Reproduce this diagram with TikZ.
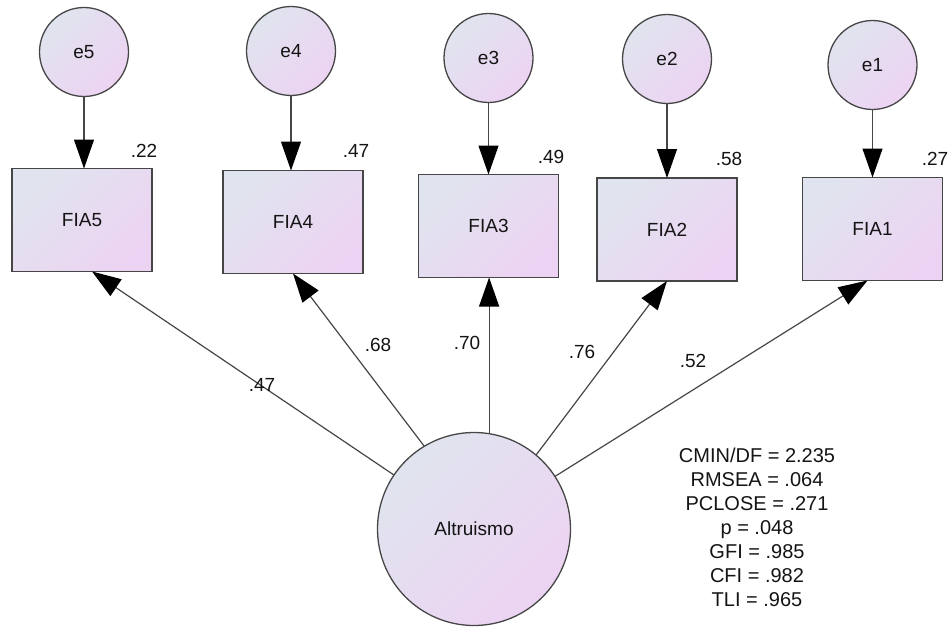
\documentclass[tikz,border=0pt]{standalone}
\usepackage{fontspec}
\setmainfont{Liberation Sans}
\usetikzlibrary{arrows.meta}
\definecolor{gA}{RGB}{224,228,238}
\definecolor{gB}{RGB}{237,211,243}
\definecolor{edge}{RGB}{70,70,70}
\definecolor{ink}{RGB}{20,20,20}
\tikzset{
  grad/.style={top color=gA, bottom color=gB, shading angle=45},
  obs/.style={draw=edge, line width=1.3pt, grad, rectangle, minimum width=140pt, minimum height=103pt, inner sep=0pt, outer sep=0pt, text=ink},
  err/.style={draw=edge, line width=1.3pt, grad, circle, minimum size=89pt, inner sep=0pt, outer sep=0pt, text=ink},
  lat/.style={draw=edge, line width=1.3pt, grad, circle, minimum size=193pt, inner sep=0pt, outer sep=0pt, text=ink},
  arr/.style={draw=edge, line width=1.2pt, -{Triangle[length=29pt,width=20pt,fill=black,color=black]}},
  lbl/.style={text=ink, inner sep=0pt}
}
\begin{document}
\begin{tikzpicture}[x=1pt,y=-1pt,font=\fontsize{19}{23}\selectfont]
\useasboundingbox (0,0) rectangle (949,626);
% observed variables
\node[obs] (fia5) at (82,220) {FIA5};
\node[obs] (fia4) at (293,222) {FIA4};
\node[obs] (fia3) at (488.5,226) {FIA3};
\node[obs] (fia2) at (667,229.5) {FIA2};
\node[obs] (fia1) at (872.5,229) {FIA1};
% error terms
\node[err] (e5) at (84,52) {e5};
\node[err] (e4) at (291,51) {e4};
\node[err] (e3) at (488.5,58) {e3};
\node[err] (e2) at (667,59) {e2};
\node[err] (e1) at (872.5,65) {e1};
% latent
\node[lat] (alt) at (474,529) {Altruismo};
% error arrows
\draw[arr] (e5) -- (e5 |- fia5.north);
\draw[arr] (e4) -- (e4 |- fia4.north);
\draw[arr] (e3) -- (fia3);
\draw[arr] (e2) -- (fia2);
\draw[arr] (e1) -- (fia1);
% loadings
\draw[arr] (alt.146.6) -- ([xshift=10pt]fia5.south);
\draw[arr] (alt.121.8) -- (fia4.south);
\draw[arr] (alt.81.7) -- (alt.81.7 |- fia3.south);
\draw[arr] (alt.50.3) -- (fia2.south);
\draw[arr] (alt.33) -- ([xshift=-5pt]fia1.south);
% R-squared labels
\node[lbl] (r5) at (144,151) {.22};
\node[lbl] (r4) at (356,151) {.47};
\node[lbl] (r3) at (551,157) {.49};
\node[lbl] (r2) at (729,159) {.58};
\node[lbl] (r1) at (935,159) {.27};
% loading labels
\node[lbl] (l5) at (262,385) {.47};
\node[lbl] (l4) at (378,345) {.68};
\node[lbl] (l3) at (467,343) {.70};
\node[lbl] (l2) at (582,352) {.76};
\node[lbl] (l1) at (693,361) {.52};
% fit statistics
\node[lbl, align=center, font=\fontsize{20}{24}\selectfont] (fit) at (757,527) {CMIN/DF = 2.235\\RMSEA = .064\\PCLOSE = .271\\p = .048\\GFI = .985\\CFI = .982\\TLI = .965};
\end{tikzpicture}
\end{document}
